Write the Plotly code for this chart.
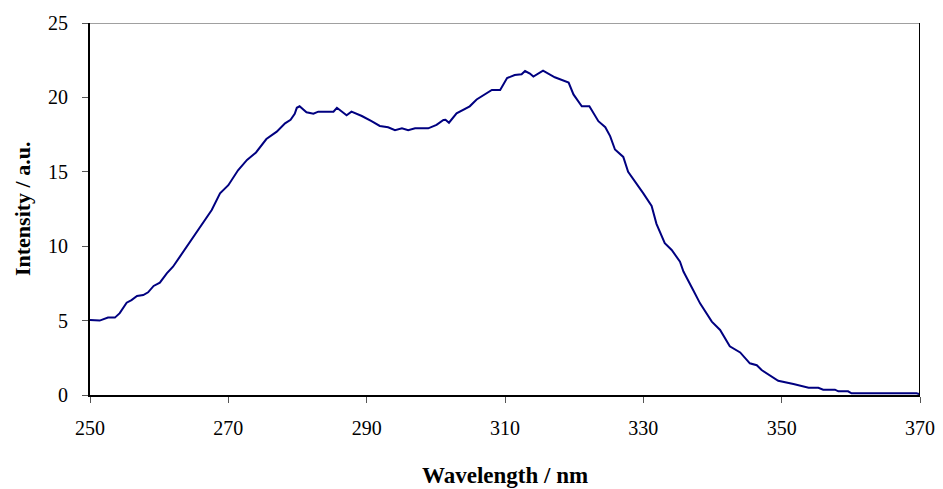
import plotly.graph_objects as go

wavelength = [250, 251.4, 252.6, 253.6, 254.3, 255.3, 256.0, 256.8, 257.7, 258.4, 259.2, 260.1,
              261.1, 262.0, 263.0, 264.5, 265.7, 266.4, 267.6, 268.8, 270.0, 271.4, 272.7, 274.0,
              274.8, 275.5, 277.0, 278.2, 279.0, 279.6, 279.9, 280.3, 281.3, 282.3, 283.0, 285.2,
              285.7, 287.1, 287.8, 289.3, 290.7, 291.9, 293.1, 294.1, 295.1, 296.0, 297.0, 298.9,
              300.1, 301.1, 301.4, 301.9, 303.0, 304.9, 305.9, 307.1, 308.1, 309.3, 310.3, 311.4,
              312.4, 312.9, 313.6, 314.1, 315.5, 317.2, 319.2, 319.9, 321.1, 322.2, 323.5, 324.5,
              325.2, 325.9, 327.1, 327.8, 328.5, 330.0, 331.2, 331.9, 333.1, 334.1, 335.3, 335.8,
              337.2, 338.2, 339.9, 341.1, 342.5, 344.0, 345.4, 346.4, 347.1, 348.3, 349.5, 351.7,
              353.9, 355.3, 356.0, 357.7, 358.2, 359.6, 360.1, 369.5, 370.0]
intensity = [5.04, 5.0, 5.2, 5.2, 5.5, 6.2, 6.38, 6.65, 6.72, 6.9, 7.33, 7.55,
             8.17, 8.62, 9.3, 10.3, 11.1, 11.65, 12.43, 13.55, 14.1, 15.1, 15.8, 16.3,
             16.8, 17.2, 17.7, 18.26, 18.5, 18.9, 19.3, 19.4, 19.0, 18.9, 19.04, 19.04,
             19.3, 18.8, 19.04, 18.75, 18.4, 18.08, 17.99, 17.79, 17.92, 17.79, 17.92, 17.92,
             18.15, 18.48, 18.5, 18.3, 18.93, 19.4, 19.86, 20.2, 20.5, 20.5, 21.3, 21.5,
             21.55, 21.77, 21.6, 21.4, 21.8, 21.35, 21.0, 20.2, 19.4, 19.4, 18.4, 18.0,
             17.4, 16.5, 16.0, 15.0, 14.56, 13.55, 12.7, 11.5, 10.2, 9.75, 8.96, 8.3,
             7.06, 6.16, 4.93, 4.37, 3.27, 2.86, 2.13, 2.0, 1.68, 1.34, 0.96, 0.74,
             0.49, 0.49, 0.36, 0.36, 0.25, 0.25, 0.11, 0.11, 0.05]

x_ticks = [250, 270, 290, 310, 330, 350, 370]
y_ticks = [0, 5, 10, 15, 20, 25]
x_title = "Wavelength / nm"
y_title = "Intensity / a.u."

FONT = "Liberation Serif"

fig = go.Figure()
fig.add_trace(go.Scatter(x=wavelength, y=intensity, mode="lines",
                         line=dict(color="#000080", width=2), showlegend=False))

fig.update_layout(
    width=943, height=489,
    margin=dict(l=90, r=23, t=23, b=94),
    paper_bgcolor="white", plot_bgcolor="white",
    font=dict(family=FONT, size=20, color="black"),
    xaxis=dict(range=[250, 370], tickvals=x_ticks, showgrid=False, zeroline=False,
               automargin=False,
               showline=True, linecolor="black", linewidth=1.5,
               ticks="outside", ticklen=6, tickcolor="#555", tickwidth=1,
               ticklabelstandoff=8, tickfont=dict(family=FONT, size=20)),
    yaxis=dict(range=[0, 25], tickvals=y_ticks, showgrid=False, zeroline=False,
               automargin=False,
               showline=True, linecolor="black", linewidth=2,
               ticks="outside", ticklen=6, tickcolor="#555", tickwidth=1,
               ticklabelstandoff=10, tickfont=dict(family=FONT, size=20)),
    shapes=[
        dict(type="line", xref="x domain", yref="y", x0=0, x1=1, y0=25, y1=25,
             line=dict(color="#808080", width=1.5)),
        dict(type="line", xref="x", yref="y domain", x0=370, x1=370, y0=0, y1=1,
             line=dict(color="black", width=2)),
    ],
    annotations=[
        dict(text="<b>" + x_title + "</b>", xref="paper", yref="paper", x=0.5, y=-0.2177,
             xanchor="center", yanchor="middle", showarrow=False,
             font=dict(family=FONT, size=23, color="black")),
        dict(text="<b>" + y_title + "</b>", xref="paper", yref="paper", x=-0.0819, y=0.5,
             xanchor="center", yanchor="middle", textangle=-90, showarrow=False,
             font=dict(family=FONT, size=22, color="black")),
    ],
)

fig.write_html("out.html")
